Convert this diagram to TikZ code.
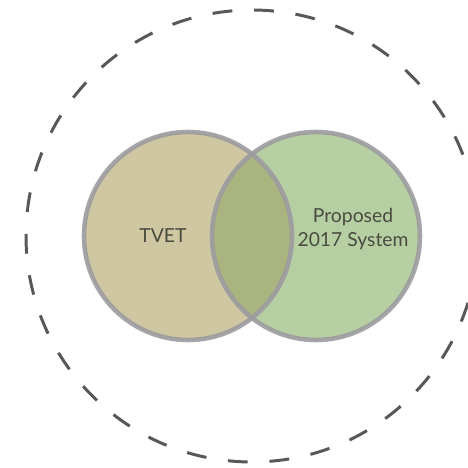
\documentclass[tikz,border=0pt]{standalone}
\usepackage{fontspec}
\setmainfont{Lato}
\definecolor{ringgray}{HTML}{58585A}
\definecolor{edgegray}{HTML}{9C9CA0}
\definecolor{tvetfill}{HTML}{CFC7A1}
\definecolor{sysfill}{HTML}{B6CFA2}
\definecolor{bothfill}{HTML}{AAB47E}
\definecolor{labeltext}{HTML}{4A4B40}
\begin{document}
\begin{tikzpicture}[x=0.02cm,y=0.02cm]
      \useasboundingbox (0,0) rectangle (468,468);
      % outer dashed ring
      \draw[ringgray, line width=1.7pt, dash pattern=on 11.3pt off 12.4pt] (252,232) circle (226);
      % the two sets
      \fill[tvetfill] (188,232) circle (104);
      \fill[sysfill] (316,232) circle (104);
      \begin{scope}
        \clip (188,232) circle (104);
        \fill[bothfill] (316,232) circle (104);
      \end{scope}
      \draw[edgegray, line width=2.6pt, opacity=.9] (188,232) circle (104);
      \draw[edgegray, line width=2.6pt, opacity=.9] (316,232) circle (104);
      \node[labeltext, font=\fontsize{11}{13.8}\selectfont] (tvet) at (163,232) {TVET};
      \node[labeltext, font=\fontsize{11}{13.8}\selectfont, align=center] (sys) at (353,239) {Proposed\\2017 System};
    \end{tikzpicture}
\end{document}
